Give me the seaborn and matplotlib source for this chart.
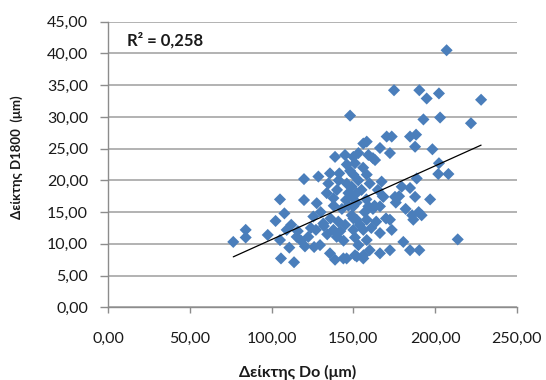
import numpy as np
import pandas as pd
import matplotlib
matplotlib.use("Agg")
import matplotlib.pyplot as plt
import seaborn as sns

# Δείκτης Do (μm)
do_um = [76.5, 84.1, 84.1, 97.6, 102.4, 105.1, 107.8, 105.7, 113.7, 105.1,
         109.2, 110.8, 115.3, 119.8, 119.8, 120.4, 122.4, 125.5, 128.6, 127.6,
         129.6, 127.1, 131.6, 133.7, 135.7, 134.7, 137.8, 135.7, 138.8, 138.8,
         141.4, 137.8, 140.8, 139.8, 144.9, 145.9, 145.5, 147.0, 148.0, 150.0,
         151.0, 150.0, 149.0, 152.0, 150.0, 149.0, 152.0, 150.0, 153.1, 151.0,
         156.1, 153.1, 156.1, 158.2, 159.2, 158.2, 159.2, 158.2, 156.1, 158.2,
         163.3, 166.3, 167.3, 168.4, 166.3, 166.3, 166.3, 170.4, 173.5, 172.4,
         172.4, 173.5, 172.4, 174.9, 175.5, 179.6, 180.6, 184.7, 188.4, 187.8,
         184.7, 187.8, 188.8, 186.7, 191.8, 184.7, 190.4, 190.4, 194.9, 192.9,
         198.4, 197.0, 202.4, 203.1, 202.4, 202.0, 208.2, 207.1, 213.9, 222.0,
         228.2,
         130.0, 132.0, 134.0, 136.0, 138.0, 140.0, 142.0, 143.0, 145.0, 146.0,
         147.0, 148.0, 149.0, 150.0, 151.0, 152.0, 153.0, 154.0, 155.0, 156.0,
         157.0, 158.0, 160.0, 161.0, 162.0, 163.0, 164.0, 165.0, 116.0, 118.0,
         112.0, 124.0, 126.0, 144.0, 160.0, 162.0, 146.0, 141.0, 170.0, 168.0,
         176.0, 178.0, 182.0, 186.0, 190.0, 143.9, 152.1, 156.2]

# Δείκτης D1800 (μm)
d1800_um = [10.3, 12.2, 11.0, 11.4, 13.6, 17.0, 14.8, 7.7, 7.1, 10.6,
            12.2, 9.4, 11.1, 20.2, 16.9, 9.6, 11.1, 14.3, 20.6, 16.4,
            9.8, 12.2, 13.2, 18.0, 21.1, 19.5, 17.2, 8.5, 7.5, 23.7,
            21.1, 12.2, 13.5, 11.1, 24.0, 7.7, 16.9, 18.0, 30.2, 23.7,
            22.7, 20.9, 19.0, 18.0, 15.9, 14.5, 13.8, 12.2, 9.8, 8.2,
            7.7, 24.3, 25.8, 26.1, 24.0, 20.9, 15.9, 13.8, 12.2, 10.6,
            23.2, 25.1, 19.8, 17.4, 15.9, 11.7, 8.5, 26.9, 26.9, 24.3,
            13.8, 12.2, 9.0, 34.2, 17.4, 19.0, 10.3, 26.9, 27.2, 25.3,
            18.8, 17.4, 20.3, 13.8, 14.5, 9.0, 9.0, 34.2, 32.9, 29.6,
            24.9, 17.0, 33.7, 29.9, 22.7, 21.0, 21.0, 40.5, 10.7, 29.0,
            32.7,
            15.0, 12.8, 11.5, 14.0, 16.0, 18.5, 12.0, 15.5, 13.0, 19.5,
            16.0, 21.5, 17.5, 14.0, 11.0, 16.5, 20.0, 13.0, 18.5, 22.0,
            15.0, 17.0, 19.5, 12.5, 15.5, 16.0, 13.5, 18.5, 12.0, 10.5,
            13.0, 12.5, 9.5, 10.5, 9.0, 23.5, 22.5, 20.0, 14.0, 17.5,
            16.5, 17.5, 15.5, 14.5, 15.0, 7.7, 8.0, 8.2]

x_ticks = [0, 50, 100, 150, 200, 250]
y_ticks = [0, 5, 10, 15, 20, 25, 30, 35, 40, 45]
x_label = "Δείκτης Do (μm)"
y_label = "Δείκτης D1800  (μm)"
r2_label = "R² = 0,258"

sns.set_theme(style="white")
plt.rcParams["font.family"] = ["Lato", "Open Sans", "DejaVu Sans"]

W, H = 546, 380
fig = plt.figure(figsize=(W / 100, H / 100), dpi=100)
fig.patch.set_facecolor("white")
x0, x1, y0, y1 = 108.3, 516.7, 21.7, 307.3
ax = fig.add_axes([x0 / W, 1 - y1 / H, (x1 - x0) / W, (y1 - y0) / H])

df = pd.DataFrame({"Do": do_um, "D1800": d1800_um})
sns.scatterplot(data=df, x="Do", y="D1800", marker="D", s=38,
                color="#4a7ebb", edgecolor="none", linewidth=0, ax=ax, zorder=3)
sns.regplot(data=df, x="Do", y="D1800", scatter=False, ci=None, truncate=True,
            line_kws=dict(color="black", lw=0.9, zorder=4), ax=ax)

ax.set_xlim(0, 250)
ax.set_ylim(0, 45)
ax.set_xticks(x_ticks)
ax.set_yticks(y_ticks)
fmt = lambda v: f"{v:.2f}".replace(".", ",")
ax.set_xticklabels([fmt(v) for v in x_ticks])
ax.set_yticklabels([fmt(v) for v in y_ticks])
ax.set_xlabel("")
ax.set_ylabel("")

ax.yaxis.grid(True, color="#a6a6a6", lw=1.2)
ax.xaxis.grid(False)
ax.set_axisbelow(True)
for s in ["top", "right"]:
    ax.spines[s].set_visible(False)
for s in ["left", "bottom"]:
    ax.spines[s].set_color("#8c8c8c")
    ax.spines[s].set_linewidth(1.0)
ax.tick_params(axis="x", direction="out", length=4.5, width=1, color="#8c8c8c",
               pad=13, labelsize=11.5, labelcolor="#1a1a1a")
ax.tick_params(axis="y", direction="out", length=5.5, width=1, color="#8c8c8c",
               pad=9, labelsize=11.5, labelcolor="#1a1a1a")
ax.tick_params(bottom=True, left=True)

fig.text(298 / W, 1 - 372 / H, x_label, ha="center", va="center",
         fontsize=11.5, fontweight="bold", color="#1a1a1a")
fig.text(17 / W, 1 - 157.5 / H, y_label, ha="center", va="center",
         rotation=90, fontsize=9.5, fontweight="bold", color="#1a1a1a")
fig.text(127 / W, 1 - 40 / H, r2_label, ha="left", va="center",
         fontsize=12, fontweight="bold", color="#1a1a1a")

fig.savefig("out.png", dpi=100, facecolor="white")
